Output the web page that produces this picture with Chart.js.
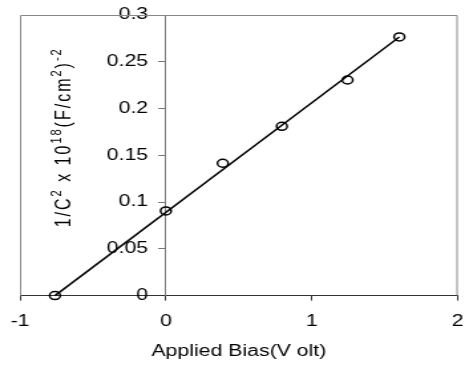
<!DOCTYPE html>
<html>
<head>
<meta charset="utf-8">
<script src="https://cdn.jsdelivr.net/npm/chart.js@4.4.1/dist/chart.umd.min.js"></script>
<style>
html, body { margin: 0; padding: 0; background: #fff; overflow: hidden; }
/* Vorlage ist horizontal gestreckt: Canvas 350px breit zeichnen, auf 465px strecken */
#wrap { width: 350px; height: 369px; transform: scaleX(1.32857); transform-origin: 0 0; }
</style>
</head>
<body>
<div id="wrap"><canvas id="chart" width="350" height="369"></canvas></div>
<script>
// --- 1. Daten ---
const biasVolt = [-0.76, 0, 0.39, 0.795, 1.245, 1.6];
const invCapSq = [0, 0.0905, 0.1415, 0.181, 0.2305, 0.2765];
const fitX = [-0.76, 1.6];
const fitY = [0, 0.2765];
const xTicks = [-1, 0, 1, 2];
const yTicks = [0, 0.05, 0.1, 0.15, 0.2, 0.25, 0.3];
const xTitle = 'Applied Bias(V olt)';
// [Text, hochgestellt?]
const yTitleParts = [['1/C', false], ['2', true], [' x 10', false], ['18', true], ['(F/cm', false], ['2', true], [')', false], ['-2', true]];

const FONT = 'Liberation Sans, Arial, sans-serif';

// --- 2. Plugins ---
// Rahmen um die Zeichenfläche (oben, links, rechts)
const boxPlugin = {
    id: 'box',
    beforeDatasetsDraw(chart) {
        const a = chart.chartArea;
        const ctx = chart.ctx;
        ctx.save();
        ctx.strokeStyle = '#888';
        ctx.lineWidth = 1;
        ctx.beginPath();
        ctx.moveTo(a.left + 0.5, a.bottom);
        ctx.lineTo(a.left + 0.5, a.top + 0.5);
        ctx.lineTo(a.right - 0.5, a.top + 0.5);
        ctx.lineTo(a.right - 0.5, a.bottom);
        ctx.stroke();
        ctx.restore();
    }
};

// Y-Achsentitel mit Hochzahlen, gedreht
const yTitlePlugin = {
    id: 'yTitle',
    afterDraw(chart) {
        const a = chart.chartArea;
        const ctx = chart.ctx;
        const cx = a.left + 34;
        const cy = (a.top + a.bottom) / 2 - 18;
        ctx.save();
        ctx.translate(cx, cy);
        ctx.rotate(-Math.PI / 2);
        ctx.fillStyle = '#000';
        ctx.textBaseline = 'middle';
        ctx.textAlign = 'left';
        ctx.letterSpacing = '2px';
        const mainFont = '16px ' + FONT;
        const supFont = '11px ' + FONT;
        let total = 0;
        yTitleParts.forEach(([t, sup]) => {
            ctx.font = sup ? supFont : mainFont;
            total += ctx.measureText(t).width;
        });
        let x = -total / 2;
        yTitleParts.forEach(([t, sup]) => {
            ctx.font = sup ? supFont : mainFont;
            ctx.fillText(t, x, sup ? -6 : 0);
            x += ctx.measureText(t).width;
        });
        ctx.restore();
    }
};

// --- 3. Chart ---
const ctx = document.getElementById('chart').getContext('2d');
new Chart(ctx, {
    type: 'scatter',
    data: {
        datasets: [
            {
                label: 'Messwerte',
                data: biasVolt.map((x, i) => ({ x: x, y: invCapSq[i] })),
                pointStyle: 'circle',
                pointRadius: 4,
                borderColor: '#000',
                backgroundColor: 'rgba(0,0,0,0)',
                borderWidth: 1.5,
                showLine: false,
                clip: false
            },
            {
                label: 'Fit',
                data: fitX.map((x, i) => ({ x: x, y: fitY[i] })),
                showLine: true,
                pointRadius: 0,
                borderColor: '#000',
                borderWidth: 1.5,
                clip: false
            }
        ]
    },
    options: {
        responsive: false,
        devicePixelRatio: 1,
        animation: false,
        layout: { padding: { left: 15, right: 5, top: 15, bottom: 6 } },
        plugins: { legend: { display: false }, tooltip: { enabled: false } },
        scales: {
            x: {
                type: 'linear',
                position: 'bottom',
                min: -1, max: 2,
                afterBuildTicks: s => { s.ticks = xTicks.map(v => ({ value: v })); },
                afterFit: s => { s.paddingLeft = 0; s.paddingRight = 0; },
                grid: { drawOnChartArea: false, tickLength: 5, color: '#333' },
                border: { color: '#333', width: 1 },
                ticks: { padding: 11, color: '#000', font: { family: FONT, size: 16 }, maxRotation: 0 },
                title: { display: true, text: xTitle, color: '#000', font: { family: FONT, size: 16 }, padding: { top: 0, bottom: 2 } }
            },
            y: {
                type: 'linear',
                position: { x: 0 },
                min: 0, max: 0.3,
                afterBuildTicks: s => { s.ticks = yTicks.map(v => ({ value: v })); },
                grid: { drawOnChartArea: false, tickLength: 5, color: '#777' },
                border: { color: '#777', width: 1 },
                // Labels sitzen bei Achsen-Position mit Objekt direkt an der Linie -> Abstand per Leerzeichen
                ticks: { color: '#000', font: { family: FONT, size: 16 }, callback: v => String(v) + '   ' }
            }
        }
    },
    plugins: [boxPlugin, yTitlePlugin]
});
</script>
</body>
</html>
